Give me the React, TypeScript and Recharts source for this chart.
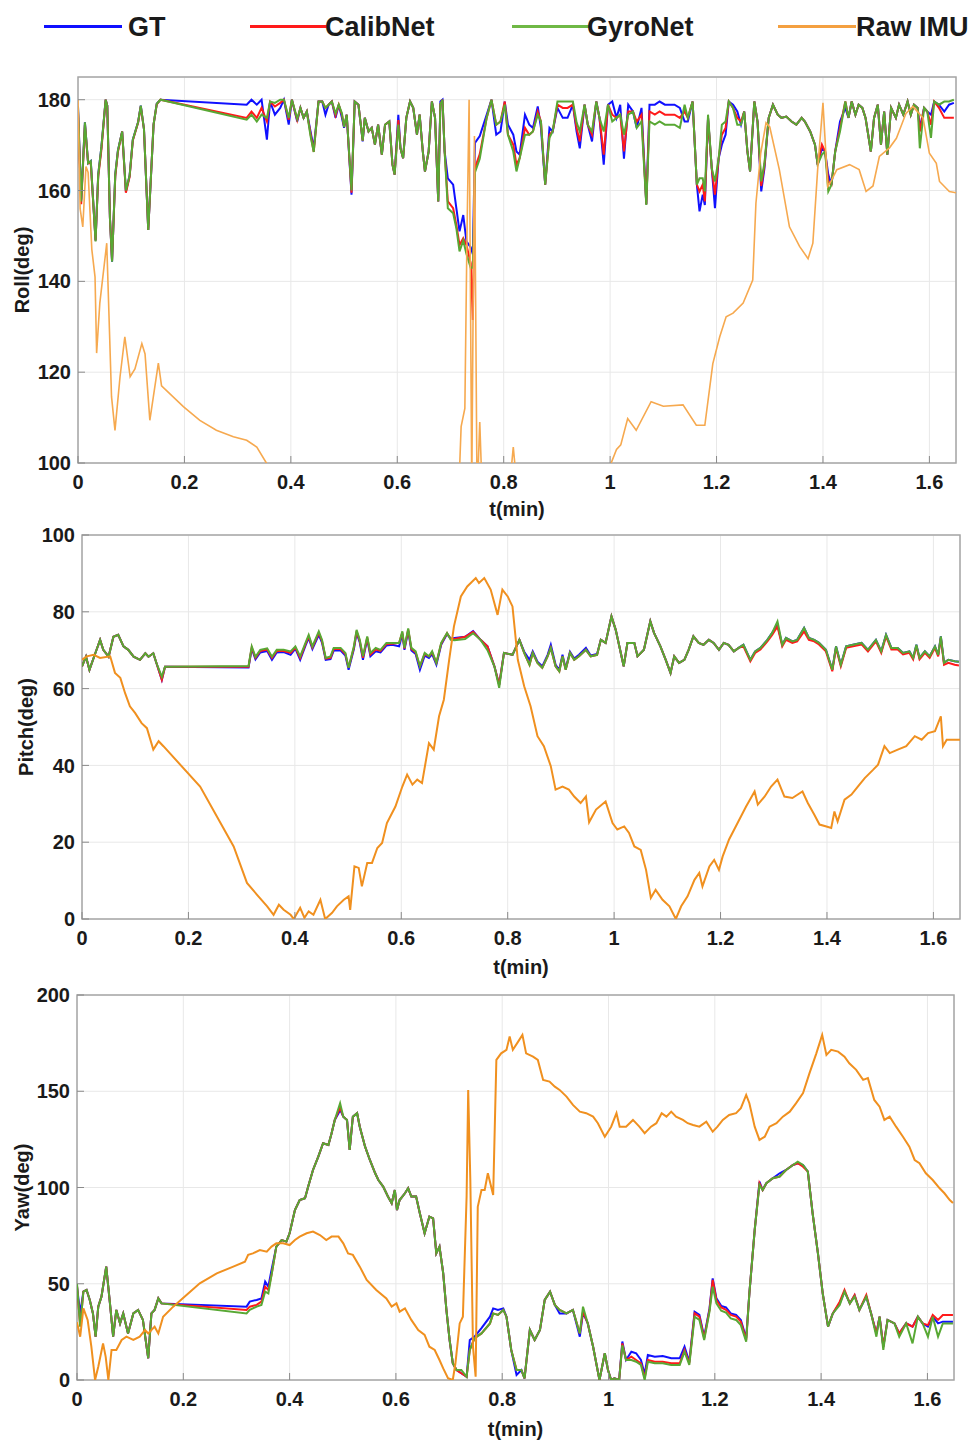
import React from 'react';
import {
  LineChart,
  Line,
  XAxis,
  YAxis,
  CartesianGrid,
  ReferenceArea,
} from 'recharts';

// ── Shared time ticks ──────────────────────────────────────────────────────
const T_TICKS = [0, 0.2, 0.4, 0.6, 0.8, 1, 1.2, 1.4, 1.6];
const T_DOMAIN: [number, number] = [0, 1.65];

// ── Roll ───────────────────────────────────────────────────────────────────
const ROLL_TICKS = [100, 120, 140, 160, 180];
const ROLL_T = [
  0, 0.006, 0.013, 0.019, 0.024, 0.033, 0.038, 0.044, 0.052, 0.055,
  0.06, 0.064, 0.07, 0.075, 0.083, 0.09, 0.097, 0.103, 0.113, 0.118,
  0.124, 0.132, 0.142, 0.148, 0.155, 0.317, 0.326, 0.336, 0.345, 0.355,
  0.361, 0.37, 0.38, 0.387, 0.396, 0.402, 0.412, 0.418, 0.424, 0.43,
  0.437, 0.443, 0.452, 0.459, 0.465, 0.471, 0.477, 0.484, 0.49, 0.496,
  0.5, 0.505, 0.514, 0.52, 0.527, 0.535, 0.539, 0.546, 0.552, 0.558,
  0.564, 0.571, 0.577, 0.585, 0.591, 0.595, 0.602, 0.606, 0.611, 0.617,
  0.624, 0.63, 0.637, 0.642, 0.648, 0.652, 0.659, 0.665, 0.671, 0.677,
  0.681, 0.685, 0.689, 0.695, 0.705, 0.711, 0.717, 0.724, 0.73, 0.738,
  0.742, 0.746, 0.755, 0.768, 0.777, 0.786, 0.794, 0.802, 0.808, 0.818,
  0.824, 0.83, 0.84, 0.848, 0.855, 0.864, 0.87, 0.878, 0.886, 0.892,
  0.901, 0.911, 0.92, 0.93, 0.937, 0.943, 0.952, 0.958, 0.966, 0.974,
  0.98, 0.988, 0.996, 1.004, 1.012, 1.019, 1.026, 1.034, 1.043, 1.05,
  1.059, 1.068, 1.074, 1.084, 1.093, 1.103, 1.112, 1.121, 1.131, 1.14,
  1.146, 1.155, 1.163, 1.168, 1.174, 1.178, 1.184, 1.191, 1.197, 1.204,
  1.21, 1.217, 1.223, 1.231, 1.239, 1.246, 1.252, 1.258, 1.263, 1.271,
  1.277, 1.284, 1.29, 1.298, 1.306, 1.315, 1.322, 1.331, 1.341, 1.35,
  1.36, 1.366, 1.376, 1.385, 1.39, 1.398, 1.404, 1.41, 1.416, 1.423,
  1.432, 1.442, 1.448, 1.454, 1.461, 1.467, 1.474, 1.48, 1.49, 1.496,
  1.503, 1.509, 1.515, 1.521, 1.528, 1.537, 1.543, 1.551, 1.559, 1.565,
  1.571, 1.578, 1.582, 1.59, 1.596, 1.603, 1.609, 1.618, 1.628, 1.637, 1.646,
];
const ROLL_GT = [
  178.5, 158, 175, 166, 166.5, 149, 163.5, 169.6, 180, 178.7,
  154, 144.3, 163.5, 168.8, 173, 159.8, 163.3, 171.2, 175.1, 178.7,
  173.5, 151.3, 174.5, 179.1, 180, 178.9, 180, 178.9, 180, 171.2,
  179.6, 176.7, 178.2, 180, 174.5, 180, 175.2, 178.2, 176, 177.4,
  173, 169.3, 179.6, 179.6, 176.7, 178.9, 179.6, 176, 178.9, 176,
  173.8, 176.7, 159.1, 179.6, 178.9, 170.8, 176, 173, 173.8, 170.1,
  174.5, 167.9, 174.5, 175.2, 165.7, 163.5, 176.7, 169.3, 167.1, 176,
  179.6, 178.2, 172.3, 176.7, 168.6, 164.2, 168.6, 179.6, 176, 157.6,
  179.6, 180, 168.6, 162.7, 161.3, 156.1, 151, 154.6, 148.8, 147.5,
  146, 170.5, 172, 176.7, 180, 172.3, 173, 179.6, 174.5, 172.3,
  168.6, 167.9, 176.7, 174.5, 173.8, 178.5, 173.8, 161.3, 173.8, 173,
  178.2, 176, 176, 178.9, 173, 169.3, 178.9, 174.5, 170.8, 179.6,
  176, 165.7, 178.9, 179.6, 176, 178.9, 167, 178.9, 177.4, 173.8,
  178.2, 157, 178.9, 178.9, 179.6, 178.9, 178.9, 178.9, 178.2, 175.2,
  175.2, 179.6, 161.3, 155.4, 159.1, 156.8, 176, 164.9, 156.1, 167.1,
  170.1, 172.3, 179.6, 178.9, 177.4, 174.5, 177.4, 168.6, 164.2, 179.6,
  175.2, 159.8, 164.9, 176, 178.9, 176.7, 176, 176.3, 175.2, 174.5,
  176, 175.2, 173, 170.1, 165.7, 169.3, 168.6, 163.5, 161.3, 168.6,
  175.2, 178.2, 176, 179.6, 176.7, 178.9, 178.2, 176, 168.6, 176,
  178.9, 170.1, 177.4, 167.9, 178.2, 176, 178.9, 176.7, 179.6, 176.7,
  178.9, 178.2, 173.8, 178.2, 177.4, 176.7, 179.6, 178.9, 177.4, 178.9, 179.3,
];
const ROLL_CALIB = [
  177.5, 157, 174.5, 166, 166, 149, 163, 169, 180, 178.7,
  154, 144.5, 163, 168.5, 173, 159.5, 163, 171, 175, 178.5,
  173.5, 151.3, 174.5, 179, 180, 176, 177.4, 176, 178.2, 175.2,
  179.6, 178.5, 179.3, 180, 175.6, 180, 175.5, 178.2, 176, 177.4,
  172.5, 168.5, 179.6, 179.6, 178.2, 178.9, 179.6, 176.5, 178.9, 176.7,
  174, 176.7, 159.5, 179.6, 178.9, 171, 176, 173, 173.8, 170.1,
  174.5, 167.9, 174.5, 175.2, 165.7, 163.5, 175.5, 169.3, 167.1, 176,
  179.6, 178.2, 172.3, 176.7, 168.6, 164.2, 168.6, 179.6, 176, 157.6,
  179, 180, 168.6, 157.6, 156.1, 152.4, 148, 149.5, 148, 144,
  131.5, 165, 168, 176, 180, 174.5, 175.2, 179.6, 172.3, 170.1,
  165.7, 167.1, 173.8, 172.3, 173, 177.4, 175.2, 161.3, 172.3, 173,
  178.9, 178.2, 178.2, 178.9, 173.8, 170.8, 178.9, 174.5, 172.3, 179.6,
  176, 167.9, 178.9, 176.7, 176, 176.7, 168.6, 177.4, 177.4, 175.2,
  176.7, 157, 177.4, 176.7, 177.4, 176.7, 176.7, 176.7, 176, 177.4,
  176, 179.6, 161.3, 159.8, 161.3, 157.6, 176, 164.9, 159.1, 167.1,
  172.3, 173.8, 179.6, 178.2, 176, 175.2, 177.4, 168.6, 164.2, 179.6,
  175.2, 161, 165.5, 176, 178.9, 176.7, 176, 176.3, 175.2, 174.5,
  176, 175.2, 173, 170.1, 165.7, 170.1, 168.6, 162, 161.3, 168.6,
  173.8, 179.6, 176, 179.6, 176.7, 178.9, 178.2, 176, 168.6, 176,
  178.9, 170.1, 177.4, 167.9, 178.2, 176, 178.9, 176.7, 179.6, 176.7,
  178.9, 178.2, 173, 178.2, 177.4, 174.5, 179.6, 178.2, 176, 176, 176,
];
const ROLL_GYRO = [
  178.5, 157.6, 175, 166, 166.5, 148.8, 163.5, 169.6, 180, 178.7,
  154, 144.3, 163.5, 168.8, 173, 160, 163.3, 171.2, 175.1, 178.7,
  173.5, 151.3, 174.5, 179.1, 180, 175.6, 176.7, 175.2, 176.7, 176,
  179.6, 179.3, 180, 180, 176, 180, 175.8, 178.2, 176, 177.4,
  172, 168.5, 179.6, 179.6, 178.2, 178.9, 179.6, 177, 178.9, 177,
  174, 176.7, 160, 179.6, 178.9, 171, 176, 173, 173.8, 170.1,
  174.5, 167.9, 174.5, 175.2, 165.7, 163.5, 174.5, 169.3, 167.1, 176,
  179.6, 178.2, 172.3, 176.7, 168.6, 164.2, 168.6, 179.6, 176, 157.6,
  179, 180, 168.6, 156.1, 155, 151.7, 146.6, 149, 146, 143,
  143, 164, 167, 176, 180, 174.5, 175.2, 178.9, 172.3, 168.6,
  164.2, 167.1, 172.3, 172.3, 173, 176.7, 175.2, 161.3, 171.6, 173,
  179.6, 179.6, 179.6, 179.6, 175, 173, 178.9, 174.5, 173, 179.6,
  176, 173, 178.9, 175.2, 176, 176.7, 172.3, 176.7, 177.4, 173.8,
  175.2, 156.8, 175.2, 174.5, 175.2, 174.5, 174.5, 174.5, 173.8, 178.9,
  176, 179.6, 161.3, 162.7, 162.7, 159.8, 176.7, 164.9, 162, 167.1,
  174.5, 175.2, 179.6, 178.2, 174.5, 174.5, 177.4, 168.6, 164.2, 179.6,
  175.2, 162, 166, 176, 178.9, 176.7, 176, 176.3, 175.2, 174.5,
  176, 175.2, 173, 170.1, 165.7, 167.9, 168.6, 159.8, 161.3, 168.6,
  173, 179.6, 176, 179.6, 176.7, 178.9, 178.2, 176, 168.6, 176,
  178.9, 170.1, 177.4, 167.9, 178.2, 176, 178.9, 176.7, 179.6, 176.7,
  178.9, 178.2, 169.3, 178.2, 177.4, 171.6, 179.6, 178.9, 179.6, 179.6, 180,
];
const ROLL_RAW_T = [
  0, 0.004, 0.009, 0.015, 0.019, 0.026, 0.032, 0.035, 0.041, 0.054,
  0.063, 0.0695, 0.079, 0.088, 0.098, 0.107, 0.12, 0.126, 0.135, 0.151,
  0.157, 0.198, 0.229, 0.26, 0.292, 0.317, 0.336, 0.354, 0.4, 0.5,
  0.6, 0.7, 0.715, 0.72, 0.727, 0.731, 0.735, 0.74, 0.745, 0.75,
  0.755, 0.76, 0.8, 0.812, 0.818, 0.824, 0.9, 1.0, 1.002, 1.012,
  1.02, 1.033, 1.049, 1.077, 1.1, 1.137, 1.162, 1.178, 1.193, 1.206,
  1.218, 1.231, 1.25, 1.268, 1.274, 1.283, 1.293, 1.3, 1.318, 1.337,
  1.356, 1.372, 1.381, 1.39, 1.4, 1.409, 1.415, 1.426, 1.45, 1.468,
  1.481, 1.494, 1.506, 1.525, 1.538, 1.556, 1.569, 1.588, 1.6, 1.613,
  1.619, 1.6375, 1.65,
];
const ROLL_RAW = [
  180, 156, 152, 165.3, 164, 147, 141, 124.2, 135.2, 148.4,
  114.6, 107.2, 119, 127.8, 119, 120.7, 126.3, 124, 109.4, 122,
  117, 112.4, 109.4, 107.2, 105.8, 105, 103.5, 100, 94, 90,
  88, 88, 92, 108, 112, 150, 180, 95, 172, 92,
  109, 92, 94, 96, 103.5, 96, 90, 98, 100, 103,
  104, 109.8, 107.2, 113.5, 112.5, 112.8, 108.3, 108.3, 121.9, 127.8,
  132.2, 133, 135.2, 140.3, 157.2, 168.2, 174.9, 174, 164.6, 152,
  147.7, 145, 148.4, 164.6, 179.3, 160.9, 162, 164.6, 165.7, 164.6,
  159.8, 161, 167.5, 169.4, 171.5, 177, 178.5, 176, 168.2, 166,
  162, 159.8, 159.5,
];

// ── Pitch ──────────────────────────────────────────────────────────────────
const PITCH_TICKS = [0, 20, 40, 60, 80, 100];
const PITCH_T = [
  0, 0.0075, 0.014, 0.025, 0.034, 0.04, 0.05, 0.059, 0.068, 0.078,
  0.087, 0.097, 0.109, 0.119, 0.125, 0.134, 0.14, 0.15, 0.156, 0.313,
  0.319, 0.326, 0.335, 0.348, 0.357, 0.366, 0.379, 0.392, 0.401, 0.41,
  0.42, 0.426, 0.433, 0.445, 0.451, 0.458, 0.467, 0.473, 0.486, 0.495,
  0.501, 0.511, 0.516, 0.522, 0.528, 0.536, 0.542, 0.552, 0.561, 0.572,
  0.583, 0.596, 0.602, 0.606, 0.613, 0.619, 0.627, 0.635, 0.644, 0.652,
  0.658, 0.666, 0.675, 0.686, 0.693, 0.7, 0.72, 0.735, 0.749, 0.762,
  0.775, 0.784, 0.793, 0.809, 0.822, 0.831, 0.841, 0.847, 0.856, 0.865,
  0.875, 0.881, 0.89, 0.897, 0.903, 0.909, 0.917, 0.925, 0.934, 0.947,
  0.956, 0.968, 0.975, 0.984, 0.995, 1.003, 1.018, 1.025, 1.038, 1.044,
  1.056, 1.068, 1.075, 1.087, 1.097, 1.106, 1.113, 1.122, 1.132, 1.14,
  1.149, 1.159, 1.168, 1.178, 1.187, 1.197, 1.206, 1.215, 1.225, 1.234,
  1.243, 1.256, 1.265, 1.275, 1.288, 1.297, 1.307, 1.316, 1.323, 1.335,
  1.344, 1.357, 1.366, 1.376, 1.385, 1.398, 1.41, 1.417, 1.426, 1.436,
  1.449, 1.465, 1.477, 1.492, 1.502, 1.511, 1.521, 1.533, 1.543, 1.555,
  1.562, 1.568, 1.574, 1.584, 1.593, 1.603, 1.609, 1.614, 1.62, 1.628,
  1.64, 1.648,
];
const PITCH_GT = [
  65.8, 68.3, 64.9, 69.2, 72.7, 70.1, 68.3, 73.5, 74, 71,
  70.1, 68.3, 67.5, 69.2, 68.3, 69.2, 66.6, 62.3, 65.7, 65.5,
  70.4, 67.6, 69.4, 69.8, 67.5, 69.4, 69.5, 68.8, 70.4, 67.5,
  71.2, 73.2, 70.3, 74, 72, 67.5, 67.7, 69.9, 69.9, 68.6,
  64.9, 70.3, 74.5, 72, 67.5, 72.9, 68.4, 69.7, 69.4, 71.2,
  71.4, 71, 74.2, 70.1, 75, 69.9, 69, 64.9, 68.6, 68,
  69, 66.2, 71.4, 74.2, 73, 73.2, 73.5, 75, 72.7, 71,
  65.8, 61, 69.3, 68.8, 72.7, 69.6, 67.5, 69.7, 67, 65.8,
  68.8, 71.4, 66.2, 64.9, 68.8, 65.2, 69.6, 67.8, 68.8, 70.6,
  68.6, 69, 72.7, 71.9, 78.8, 75.3, 65.8, 71.9, 71.9, 68.4,
  70.1, 77.5, 74.5, 71, 67.5, 64.1, 68.4, 66.7, 67.5, 70.1,
  73.6, 71.9, 71.4, 72.7, 71.9, 70.1, 71.9, 71.4, 69.7, 70.6,
  71.4, 67.5, 69.7, 70.6, 72.7, 74.5, 76.6, 71.4, 73.2, 72.3,
  72.7, 75.8, 73.2, 72.7, 71.9, 70.1, 64.9, 71, 66.2, 71,
  71.4, 71.9, 70.1, 72.7, 69.7, 74, 70.6, 70.6, 69.3, 69.7,
  68, 71.4, 68, 69.7, 68.4, 71, 68.8, 73.6, 66.7, 67.5,
  67.1, 67,
];
const PITCH_CALIB = [
  65.8, 68.3, 64.9, 69.2, 72.7, 70.1, 68.3, 73.5, 74, 71,
  70.1, 68.3, 67.5, 69.2, 68.3, 69.2, 66.6, 62.3, 65.7, 65.7,
  70.7, 68, 69.8, 70.2, 68, 69.8, 69.8, 69.3, 70.7, 68,
  71.6, 73.6, 70.7, 74.5, 72.4, 67.8, 68, 70.3, 70.3, 69,
  65.4, 70.7, 74.9, 72.4, 68, 73.3, 68.9, 70.2, 69.8, 71.6,
  71.7, 71.9, 74.6, 70.4, 75.4, 70.3, 69.4, 65.8, 69, 68.4,
  69.4, 66.7, 71.7, 74.4, 72.9, 72.9, 73.5, 74.8, 72.7, 71,
  65.8, 61, 69.3, 68.8, 72.7, 69.3, 66.2, 69.3, 66.7, 65.4,
  68.4, 70.6, 65.8, 64.5, 68.4, 64.9, 69.3, 67.5, 68.4, 70.1,
  68.4, 68.8, 72.7, 71.9, 78.8, 75.3, 65.8, 71.9, 71.9, 68.4,
  70.1, 77.5, 74.5, 71, 67.5, 64.1, 68.4, 66.7, 67.5, 70.1,
  73.6, 71.9, 71.4, 72.7, 71.9, 70.1, 71.9, 71.4, 69.7, 70.6,
  71, 67.1, 69.3, 70.2, 72.3, 74, 76.2, 71, 72.7, 71.9,
  72.3, 74.9, 72.7, 72.3, 71.5, 69.7, 64.5, 70.6, 65.8, 70.6,
  71, 71.5, 69.7, 72.3, 69.3, 73.6, 70.2, 70.2, 68.9, 69.3,
  67.6, 71, 67.6, 69.3, 68, 70.6, 68.4, 73.2, 66.2, 66.7,
  66.2, 66,
];
const PITCH_GYRO = [
  65.8, 68.3, 64.9, 69.2, 72.7, 70.1, 68.3, 73.5, 74, 71,
  70.1, 68.3, 67.5, 69.2, 68.3, 69.2, 66.6, 63.1, 65.7, 65.9,
  71, 68.3, 70.1, 70.5, 68.3, 70.1, 70.1, 69.7, 71, 68.4,
  71.9, 74, 71, 74.9, 72.7, 68, 68.4, 70.6, 70.6, 69.3,
  65.4, 71, 75.3, 72.7, 68.4, 73.6, 69.3, 70.6, 70.1, 71.9,
  71.9, 71.9, 74.9, 70.6, 75.7, 70.6, 69.7, 65.8, 69.3, 68.4,
  69.7, 66.7, 71.9, 74.5, 72.7, 72.6, 72.9, 74.4, 72.7, 70,
  65.8, 60.2, 69.3, 68.8, 72.7, 69.3, 66.2, 69.3, 66.7, 65.4,
  68.4, 70.6, 65.8, 64.5, 68.4, 64.9, 69.3, 67.5, 68.4, 70.1,
  68.4, 68.8, 72.7, 71.9, 78.8, 75.3, 65.8, 71.9, 71.9, 68.4,
  70.1, 77.5, 74.5, 71, 67.5, 64.1, 68.4, 66.7, 67.5, 70.1,
  73.6, 71.9, 71.4, 72.7, 71.9, 70.1, 71.9, 71.4, 69.7, 70.6,
  71.4, 67.5, 69.7, 70.6, 72.7, 74.5, 77.5, 71.4, 73.2, 72.3,
  72.7, 75.8, 73.2, 72.7, 71.9, 70.1, 64.9, 71, 66.2, 71,
  71.4, 71.9, 70.1, 72.7, 69.7, 74, 70.6, 70.6, 69.3, 69.7,
  68, 71.4, 68, 69.7, 68.4, 71, 68.8, 73.6, 66.7, 67.5,
  67.1, 67,
];
const PITCH_RAW_T = [
  0, 0.009, 0.022, 0.034, 0.053, 0.062, 0.072, 0.081, 0.09, 0.1,
  0.112, 0.122, 0.134, 0.144, 0.153, 0.222, 0.285, 0.31, 0.329, 0.348,
  0.36, 0.37, 0.379, 0.392, 0.398, 0.41, 0.418, 0.426, 0.435, 0.448,
  0.457, 0.47, 0.479, 0.492, 0.501, 0.504, 0.512, 0.52, 0.526, 0.536,
  0.545, 0.555, 0.564, 0.573, 0.589, 0.602, 0.611, 0.621, 0.63, 0.639,
  0.652, 0.661, 0.671, 0.68, 0.69, 0.699, 0.712, 0.724, 0.74, 0.746,
  0.756, 0.768, 0.781, 0.79, 0.8, 0.809, 0.819, 0.831, 0.843, 0.856,
  0.868, 0.881, 0.89, 0.903, 0.915, 0.925, 0.937, 0.947, 0.953, 0.966,
  0.984, 0.997, 1.006, 1.019, 1.028, 1.038, 1.05, 1.06, 1.069, 1.078,
  1.091, 1.104, 1.116, 1.126, 1.138, 1.151, 1.16, 1.166, 1.179, 1.188,
  1.197, 1.204, 1.216, 1.232, 1.248, 1.264, 1.27, 1.283, 1.295, 1.307,
  1.32, 1.335, 1.354, 1.364, 1.376, 1.386, 1.399, 1.408, 1.414, 1.42,
  1.433, 1.446, 1.458, 1.471, 1.487, 1.496, 1.508, 1.518, 1.533, 1.549,
  1.565, 1.578, 1.59, 1.603, 1.614, 1.618, 1.625, 1.64, 1.65,
];
const PITCH_RAW = [
  67.5, 68.4, 68.8, 68, 68.4, 64.1, 62.8, 58.8, 55.4, 53.6,
  51, 49.7, 44.1, 46.3, 45, 34.5, 18.9, 9.4, 6.3, 3.3,
  1.1, 3.7, 2.4, 1.1, 0, 2.9, 0.3, 2, 1.1, 5,
  0, 1.6, 3.3, 5, 5.9, 2.4, 13.7, 13.3, 8.5, 14.6,
  14.6, 18.5, 19.8, 25, 29.3, 34.5, 37.6, 35, 36.3, 35.4,
  45.8, 44.1, 52.8, 57.1, 67.5, 76.2, 84, 86.6, 88.8, 87.5,
  88.8, 85.8, 79.2, 85.8, 84, 81.4, 67.5, 60.6, 55.4, 47.6,
  45, 39.8, 33.7, 34.5, 33.7, 31.9, 30.2, 31.9, 25.2, 28.5,
  30.6, 25, 23.3, 24.1, 22.4, 18.9, 18, 12.8, 5.5, 7.6,
  5, 3.3, 0, 3.3, 5.9, 10.2, 12, 8.5, 13.7, 15.4,
  12.8, 16.3, 20.7, 25, 29.3, 33.2, 29.8, 31.9, 34.5, 36.3,
  31.9, 31.5, 33.2, 30.2, 27.2, 24.6, 24.1, 23.7, 28, 25.4,
  31.1, 32.4, 34.5, 36.7, 38.9, 40.2, 45, 43.2, 44.1, 45,
  47.6, 46.7, 48.4, 48.9, 52.8, 45, 46.7, 46.7, 46.7,
];

// ── Yaw ────────────────────────────────────────────────────────────────────
const YAW_TICKS = [0, 50, 100, 150, 200];
const YAW_T = [
  0, 0.006, 0.012, 0.018, 0.024, 0.03, 0.035, 0.04, 0.046, 0.055,
  0.062, 0.068, 0.074, 0.081, 0.087, 0.096, 0.106, 0.115, 0.124, 0.134,
  0.14, 0.146, 0.153, 0.159, 0.319, 0.325, 0.338, 0.347, 0.354, 0.36,
  0.366, 0.375, 0.385, 0.394, 0.4, 0.41, 0.419, 0.429, 0.435, 0.444,
  0.454, 0.463, 0.473, 0.479, 0.485, 0.492, 0.495, 0.501, 0.508, 0.513,
  0.519, 0.527, 0.532, 0.542, 0.551, 0.561, 0.567, 0.576, 0.585, 0.592,
  0.598, 0.602, 0.607, 0.617, 0.623, 0.629, 0.638, 0.645, 0.654, 0.663,
  0.67, 0.676, 0.682, 0.689, 0.695, 0.701, 0.707, 0.714, 0.723, 0.733,
  0.739, 0.748, 0.761, 0.777, 0.783, 0.792, 0.802, 0.808, 0.817, 0.827,
  0.836, 0.842, 0.852, 0.861, 0.871, 0.88, 0.89, 0.899, 0.908, 0.921,
  0.933, 0.946, 0.952, 0.961, 0.971, 0.983, 0.993, 0.999, 1.005, 1.011,
  1.02, 1.026, 1.033, 1.043, 1.052, 1.061, 1.068, 1.074, 1.087, 1.102,
  1.118, 1.134, 1.143, 1.152, 1.162, 1.171, 1.18, 1.19, 1.196, 1.203,
  1.212, 1.221, 1.23, 1.24, 1.249, 1.259, 1.265, 1.275, 1.284, 1.29,
  1.297, 1.309, 1.322, 1.334, 1.347, 1.356, 1.366, 1.375, 1.384, 1.394,
  1.403, 1.413, 1.422, 1.435, 1.444, 1.454, 1.463, 1.472, 1.485, 1.494,
  1.504, 1.51, 1.517, 1.525, 1.538, 1.547, 1.56, 1.572, 1.582, 1.591,
  1.601, 1.61, 1.62, 1.629, 1.642, 1.648,
];
const YAW_GT = [
  48.5, 34.6, 45.9, 46.8, 41.6, 34.6, 22.5, 38.1, 43.3, 58.9,
  39.8, 22.5, 36.4, 29.4, 34.6, 24.2, 34.6, 36.4, 31.2, 11.3,
  34.6, 36.4, 42.4, 39.8, 38.1, 40.7, 41.6, 42.4, 51.1, 48.5,
  57.2, 69.3, 72.7, 71.9, 76.2, 88.3, 93.5, 94.4, 100.5, 109.1,
  116, 123, 122.1, 128.2, 135.1, 138.6, 140.5, 136.8, 135.1, 119.5,
  136.8, 138.6, 131.6, 121.2, 114.3, 107.4, 103.9, 100.5, 95.3, 91.8,
  98.7, 88.3, 93.5, 97, 99.6, 95.3, 95.3, 86.6, 76.2, 84.9,
  84, 65.8, 69.3, 55.4, 36.4, 20.8, 8.7, 5.2, 3.5, 1.7,
  20.8, 22.5, 27, 32.9, 37.2, 36.4, 37.2, 32.9, 15.6, 2.6,
  5.2, 0.8, 26, 20.8, 26, 41.6, 45.9, 39, 34.6, 34.6,
  36.4, 22.5, 35, 29.4, 17.3, 0, 13.9, 5.2, 0, 0.9,
  0, 20, 10.4, 14.7, 13.9, 10.4, 3, 13, 12.1, 12.5,
  11.3, 11.3, 17.3, 9.5, 35.5, 33.8, 22.5, 37.2, 52.8, 42.4,
  38.5, 37.7, 34.6, 33.8, 31.2, 21.7, 45, 77.9, 103, 98.7,
  102.2, 104.8, 107.4, 109.1, 111.7, 112.6, 111.7, 108.3, 86.6, 65.8,
  45, 27.7, 34.6, 39.8, 46, 39.8, 44, 36.4, 43.3, 34.6,
  24.2, 32.9, 17.3, 31.2, 29.4, 24.2, 29.4, 27.7, 32.9, 29.4,
  27.7, 32.9, 29.4, 30.3, 30.3, 30.3,
];
const YAW_CALIB = [
  49, 28, 45.9, 46.8, 41.6, 34.6, 22.5, 38.1, 43.3, 58.9,
  39.8, 22.5, 36.4, 29.4, 34.6, 24.2, 34.6, 36.4, 31.2, 11.3,
  34.6, 36.4, 42.4, 39.8, 36.4, 38.1, 39, 40.7, 48.5, 46.8,
  54.6, 69.3, 72.7, 71.9, 76.2, 88.3, 93.5, 94.4, 100.5, 109.1,
  116, 123, 122.1, 128.2, 135.1, 139.5, 141.5, 136.8, 135.1, 119.5,
  136.8, 138.6, 131.6, 121.2, 114.3, 107.4, 103.9, 100.5, 95.3, 91.8,
  98.7, 88.3, 93.5, 97, 99.6, 95.3, 95.3, 86.6, 76.2, 84.9,
  84, 65.8, 69.3, 55.4, 36.4, 20.8, 8.7, 5.2, 3.5, 1.7,
  15.6, 21.7, 24.2, 29.4, 34.6, 33.8, 36.4, 32.9, 15.6, 5.2,
  5.2, 0.8, 26, 20.8, 26, 41.6, 45.9, 39, 36.4, 34.6,
  36.4, 24.2, 35.5, 29.4, 17.3, 0, 13.9, 5.2, 0, 0.9,
  0, 19, 10.4, 12.1, 10.4, 8.7, 1, 10.4, 9.5, 9.5,
  8.7, 8.7, 15.6, 8.7, 34.6, 32.9, 21.7, 36.4, 52, 41.6,
  37.7, 36.4, 33.8, 32.9, 30.3, 20.8, 45, 77.9, 102.2, 98.7,
  102.2, 104.8, 105.7, 109.1, 111.7, 112.6, 110.8, 108.3, 86.6, 65.8,
  45, 27.7, 34.6, 40.7, 46.8, 39.8, 44.2, 36.4, 44.2, 34.6,
  24.2, 32.9, 17.3, 31.2, 29.4, 24.2, 29.4, 27.7, 32.9, 29.4,
  28.5, 33.8, 31.2, 33.8, 33.8, 33.8,
];
const YAW_GYRO = [
  50, 27.7, 45.9, 46.8, 41.6, 34.6, 22.5, 38.1, 43.3, 58.9,
  39.8, 22.5, 36.4, 29.4, 34.6, 24.2, 34.6, 36.4, 31.2, 11.3,
  34.6, 36.4, 42.4, 39.8, 34.6, 36.4, 38.1, 39, 45.9, 45,
  54.6, 69.3, 72.7, 71.9, 76.2, 88.3, 93.5, 94.4, 100.5, 109.1,
  116, 123, 122.1, 128.2, 135.1, 141.2, 143.8, 136.8, 135.1, 119.5,
  136.8, 138.6, 131.6, 121.2, 114.3, 107.4, 103.9, 100.5, 95.3, 91.8,
  98.7, 88.3, 93.5, 97, 99.6, 95.3, 95.3, 86.6, 76.2, 84.9,
  84, 65.8, 69.3, 55.4, 36.4, 20.8, 8.7, 5.2, 5.2, 1.7,
  15.6, 21.7, 24.2, 29.4, 34.6, 33.8, 36.4, 32.9, 15.6, 5.2,
  5.2, 0.8, 26, 20.8, 26, 41.6, 45.9, 39, 36.4, 34.6,
  36.4, 24.2, 38.1, 29.4, 17.3, 0, 13.9, 5.2, 0, 0.9,
  0, 18, 10.4, 10.4, 9.5, 7.8, 0, 9.5, 8.7, 8.7,
  7.8, 7.8, 14.7, 7.8, 32.9, 31.2, 20.8, 35.5, 48.5, 39.8,
  36, 35, 32, 31.2, 28.5, 19.9, 45, 77.9, 101.3, 98.7,
  102.2, 104.8, 105.7, 109.1, 111.7, 113.4, 111.7, 108.3, 86.6, 65.8,
  45, 27.7, 34.6, 39, 45.9, 39.8, 43.3, 36.4, 43.3, 34.6,
  22.5, 32.9, 15.6, 31.2, 29.4, 22.5, 29.4, 19, 32.9, 29.4,
  22.5, 32.9, 22.5, 29.4, 29.4, 29.4,
];
const YAW_RAW_T = [
  0, 0.006, 0.012, 0.02, 0.027, 0.034, 0.04, 0.049, 0.054, 0.059,
  0.065, 0.074, 0.084, 0.093, 0.106, 0.118, 0.128, 0.134, 0.146, 0.153,
  0.162, 0.181, 0.206, 0.231, 0.263, 0.294, 0.316, 0.322, 0.331, 0.344,
  0.357, 0.366, 0.375, 0.388, 0.4, 0.41, 0.419, 0.432, 0.444, 0.457,
  0.469, 0.479, 0.492, 0.501, 0.51, 0.519, 0.532, 0.545, 0.563, 0.582,
  0.592, 0.601, 0.607, 0.617, 0.629, 0.642, 0.654, 0.663, 0.673, 0.682,
  0.689, 0.698, 0.707, 0.712, 0.72, 0.726, 0.733, 0.736, 0.74, 0.745,
  0.75, 0.754, 0.761, 0.767, 0.773, 0.783, 0.789, 0.798, 0.808, 0.814,
  0.82, 0.83, 0.838, 0.845, 0.858, 0.867, 0.877, 0.889, 0.899, 0.908,
  0.921, 0.933, 0.946, 0.958, 0.971, 0.98, 0.993, 1.005, 1.015, 1.021,
  1.033, 1.046, 1.058, 1.068, 1.08, 1.09, 1.1, 1.109, 1.118, 1.127,
  1.14, 1.149, 1.159, 1.171, 1.184, 1.196, 1.205, 1.215, 1.227, 1.24,
  1.249, 1.259, 1.265, 1.275, 1.284, 1.294, 1.303, 1.316, 1.328, 1.341,
  1.353, 1.366, 1.378, 1.391, 1.402, 1.41, 1.419, 1.432, 1.444, 1.453,
  1.466, 1.479, 1.488, 1.5, 1.51, 1.519, 1.529, 1.541, 1.554, 1.566,
  1.576, 1.585, 1.597, 1.61, 1.623, 1.632, 1.642, 1.648,
];
const YAW_RAW = [
  30, 22.5, 37.2, 31.2, 17.3, 0, 6.9, 19, 12, 0,
  15.6, 15.6, 20.8, 22.5, 20.8, 22.5, 26, 24.2, 27.7, 24.2,
  32.9, 38.1, 44.2, 50.2, 55.4, 58.9, 61.5, 65, 65.8, 67.5,
  66.7, 69.3, 71, 71, 70.1, 72.7, 74.5, 76.2, 77.1, 75.3,
  72.7, 74.5, 74.5, 71, 65.8, 65, 58.9, 52, 46.8, 42.4,
  38.1, 39.8, 35.5, 37.2, 31.2, 26, 23.4, 17.3, 15.6, 10.4,
  6, 0.9, 0, 8.7, 29.4, 32.9, 95.3, 150.7, 103.9, 17.3,
  1.7, 90, 98.7, 98.7, 107.4, 96.1, 166.3, 169.7, 171.5, 178.4,
  171.5, 175.8, 179.3, 169.7, 168, 166.3, 155.9, 155, 152.4, 150.7,
  147.2, 142.9, 139.4, 138.6, 136.8, 133.4, 126.4, 131.6, 138.6, 131.6,
  131.6, 135.1, 131.6, 128.2, 131.6, 133.4, 138.6, 136.8, 139.4, 136.8,
  135.1, 133.4, 132.5, 131.6, 134.2, 129, 131.6, 135.1, 137.7, 138.6,
  141.2, 148.1, 143.8, 131.6, 124.7, 126.4, 131.6, 133.4, 136.8, 139.4,
  143.8, 149, 159.3, 169.7, 179.3, 168.9, 171.5, 170.6, 168, 164.5,
  161.1, 155.9, 156.8, 145.5, 142, 135.1, 136.8, 131.6, 126.4, 121.2,
  114.3, 112.6, 107.4, 103.9, 99.6, 97, 93.5, 92,
];

// ── Styling ────────────────────────────────────────────────────────────────
const FONT = '"Liberation Sans", Arial, Helvetica, sans-serif';
const C = {
  gt: '#1010ff',
  calib: '#ff1a1a',
  gyro: '#58a834',
  raw: '#f0901f',
  rawLight: '#f6a94f',
  grid: '#e8e8e8',
  frame: '#a6a6a6',
  tick: '#8a8a8a',
  text: '#1a1a1a',
};

const LEGEND = [
  { name: 'GT', color: C.gt, line: 44, text: 128 },
  { name: 'CalibNet', color: C.calib, line: 250, text: 325 },
  { name: 'GyroNet', color: '#6fb845', line: 512, text: 587 },
  { name: 'Raw IMU', color: '#f4a040', line: 778, text: 856 },
];

const tickStyle = { fontFamily: FONT, fontSize: 20, fontWeight: 700, fill: C.text };
const TICK_IN = -7; // MATLAB-style inward ticks

function pts(ts: number[], vs: number[]) {
  return ts.map((t, i) => ({ t, v: vs[i] }));
}

interface PanelProps {
  top: number;
  height: number;
  margin: { top: number; right: number; bottom: number; left: number };
  yWidth: number;
  yLabel: string;
  yLabelOffset: number;
  xLabelOffset: number;
  domain: [number, number];
  ticks: number[];
  t: number[];
  gt: number[];
  calib: number[];
  gyro: number[];
  rawT: number[];
  raw: number[];
  rawColor: string;
  rawWidth: number;
}

function Panel(p: PanelProps) {
  return (
    <div style={{ position: 'absolute', left: 0, top: p.top }}>
      <LineChart width={976} height={p.height} margin={p.margin}>
        <CartesianGrid stroke={C.grid} strokeWidth={1} />
        <XAxis
          dataKey="t"
          type="number"
          domain={T_DOMAIN}
          ticks={T_TICKS}
          interval={0}
          allowDataOverflow
          height={60}
          tickSize={TICK_IN}
          tickMargin={19}
          tickLine={{ stroke: C.tick }}
          axisLine={false}
          tick={tickStyle}
          tickFormatter={(v: number) => String(v)}
          label={{
            value: 't(min)',
            position: 'insideBottom',
            offset: p.xLabelOffset,
            style: { fontFamily: FONT, fontSize: 20, fontWeight: 700, fill: C.text },
          }}
        />
        <XAxis
          xAxisId="top"
          orientation="top"
          dataKey="t"
          type="number"
          domain={T_DOMAIN}
          ticks={T_TICKS}
          interval={0}
          allowDataOverflow
          height={0}
          tickSize={TICK_IN}
          tickLine={{ stroke: C.tick }}
          axisLine={false}
          tick={false}
        />
        <YAxis
          type="number"
          domain={p.domain}
          ticks={p.ticks}
          interval={0}
          allowDataOverflow
          width={p.yWidth}
          tickSize={TICK_IN}
          tickMargin={14}
          tickLine={{ stroke: C.tick }}
          axisLine={false}
          tick={tickStyle}
          label={{
            value: p.yLabel,
            angle: -90,
            position: 'insideLeft',
            offset: p.yLabelOffset,
            style: { textAnchor: 'middle', fontFamily: FONT, fontSize: 20, fontWeight: 700, fill: C.text },
          }}
        />
        <YAxis
          yAxisId="right"
          orientation="right"
          type="number"
          domain={p.domain}
          ticks={p.ticks}
          interval={0}
          allowDataOverflow
          width={0}
          tickSize={TICK_IN}
          tickLine={{ stroke: C.tick }}
          axisLine={false}
          tick={false}
        />
        <ReferenceArea
          x1={T_DOMAIN[0]}
          x2={T_DOMAIN[1]}
          y1={p.domain[0]}
          y2={p.domain[1]}
          fill="none"
          stroke={C.frame}
          strokeWidth={1.5}
        />
        <Line data={pts(p.t, p.gt)} dataKey="v" stroke={C.gt} strokeWidth={2} dot={false} isAnimationActive={false} />
        <Line data={pts(p.t, p.calib)} dataKey="v" stroke={C.calib} strokeWidth={2} dot={false} isAnimationActive={false} />
        <Line data={pts(p.t, p.gyro)} dataKey="v" stroke={C.gyro} strokeWidth={2} dot={false} isAnimationActive={false} />
        <Line data={pts(p.rawT, p.raw)} dataKey="v" stroke={p.rawColor} strokeWidth={p.rawWidth} dot={false} isAnimationActive={false} />
      </LineChart>
    </div>
  );
}

export default function App() {
  return (
    <div style={{ position: 'absolute', left: 0, top: 0, width: 976, height: 1454, background: '#fff', overflow: 'hidden' }}>
      {LEGEND.map((l) => (
        <React.Fragment key={l.name}>
          <div style={{ position: 'absolute', left: l.line, top: 25, width: 78, height: 3, background: l.color }} />
          <div
            style={{
              position: 'absolute',
              left: l.text,
              top: 10,
              fontFamily: FONT,
              fontWeight: 700,
              fontSize: 27,
              lineHeight: '34px',
              color: C.text,
              whiteSpace: 'nowrap',
            }}
          >
            {l.name}
          </div>
        </React.Fragment>
      ))}

      <Panel
        top={60}
        height={470}
        margin={{ top: 17, right: 20, bottom: 7, left: 8 }}
        yWidth={70}
        yLabel="Roll(deg)"
        yLabelOffset={14}
        xLabelOffset={7}
        domain={[100, 185]}
        ticks={ROLL_TICKS}
        t={ROLL_T}
        gt={ROLL_GT}
        calib={ROLL_CALIB}
        gyro={ROLL_GYRO}
        rawT={ROLL_RAW_T}
        raw={ROLL_RAW}
        rawColor={C.rawLight}
        rawWidth={1.6}
      />
      <Panel
        top={525}
        height={460}
        margin={{ top: 10, right: 16, bottom: 6, left: 8 }}
        yWidth={74}
        yLabel="Pitch(deg)"
        yLabelOffset={18}
        xLabelOffset={5}
        domain={[0, 100]}
        ticks={PITCH_TICKS}
        t={PITCH_T}
        gt={PITCH_GT}
        calib={PITCH_CALIB}
        gyro={PITCH_GYRO}
        rawT={PITCH_RAW_T}
        raw={PITCH_RAW}
        rawColor={C.raw}
        rawWidth={2}
      />
      <Panel
        top={985}
        height={469}
        margin={{ top: 10, right: 22, bottom: 14, left: 4 }}
        yWidth={73}
        yLabel="Yaw(deg)"
        yLabelOffset={18}
        xLabelOffset={4}
        domain={[0, 200]}
        ticks={YAW_TICKS}
        t={YAW_T}
        gt={YAW_GT}
        calib={YAW_CALIB}
        gyro={YAW_GYRO}
        rawT={YAW_RAW_T}
        raw={YAW_RAW}
        rawColor={C.raw}
        rawWidth={2}
      />
    </div>
  );
}
